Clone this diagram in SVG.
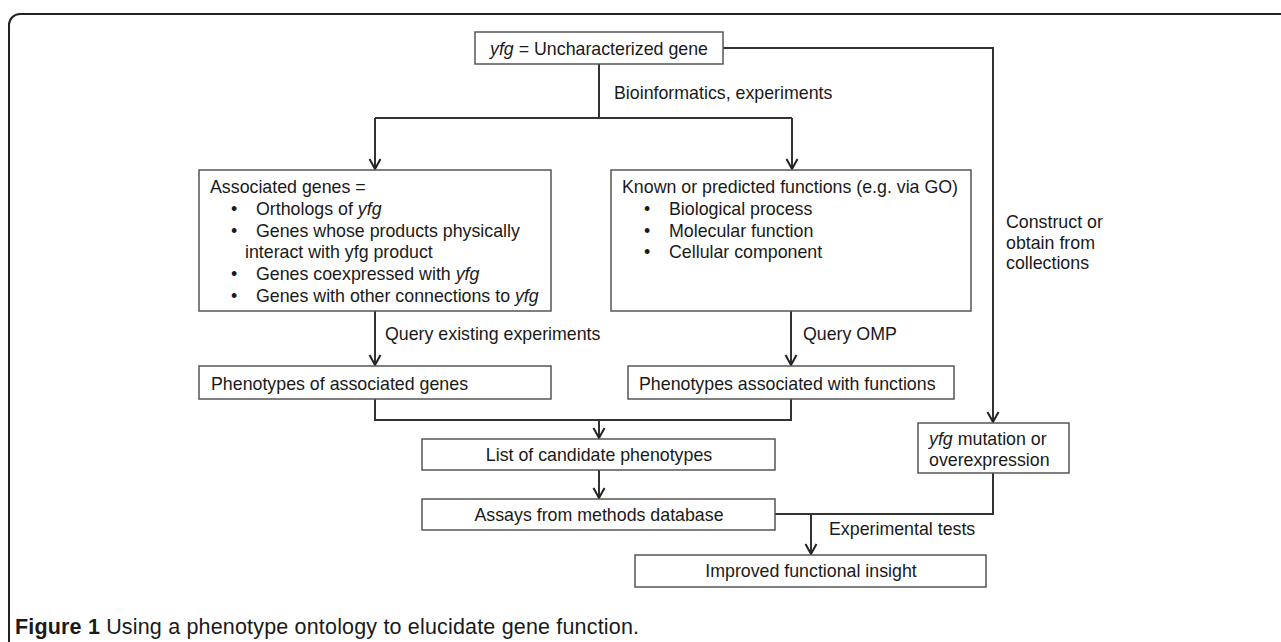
<svg xmlns="http://www.w3.org/2000/svg" width="1281" height="642" viewBox="0 0 1281 642">
<defs>
<marker id="arr" markerUnits="userSpaceOnUse" markerWidth="24" markerHeight="24" refX="0" refY="0" orient="auto" overflow="visible">
<path d="M-10,-5.5 L0,0 L-10,5.5" fill="none" stroke="#222" stroke-width="2"/>
</marker>
<style>
.box{fill:#fff;stroke:#555;stroke-width:1.5}
.t{font-family:"Liberation Sans",Arial,sans-serif;font-size:17.8px;fill:#1a1a1a}
.m{text-anchor:middle}
.i{font-style:italic}
.c{fill:none;stroke:#333;stroke-width:2}
.frame{fill:none;stroke:#222;stroke-width:2}
.cap{font-family:"Liberation Sans",Arial,sans-serif;font-size:21.5px;fill:#1a1a1a}
</style>
</defs>
<path class="frame" d="M9,642 V25 A11,11 0 0 1 20,14 H1281"/>
<g id="connectors">
<path class="c" d="M599,64 V118"/>
<path class="c" d="M375,118 H792"/>
<path class="c" d="M375,118 V169" marker-end="url(#arr)"/>
<path class="c" d="M792,118 V169" marker-end="url(#arr)"/>
<path class="c" d="M723,48 H993 V422" marker-end="url(#arr)"/>
<path class="c" d="M375,311 V365" marker-end="url(#arr)"/>
<path class="c" d="M791,311 V365" marker-end="url(#arr)"/>
<path class="c" d="M375,399 V420 H791 V399"/>
<path class="c" d="M599,420 V438" marker-end="url(#arr)"/>
<path class="c" d="M599,470 V498" marker-end="url(#arr)"/>
<path class="c" d="M775,514 H993 V473"/>
<path class="c" d="M811,514 V554" marker-end="url(#arr)"/>
<text class="t" x="614" y="99">Bioinformatics, experiments</text>
<text class="t" x="385" y="340">Query existing experiments</text>
<text class="t" x="803" y="340">Query OMP</text>
<text class="t" x="1006" y="228">Construct or</text>
<text class="t" x="1006" y="249">obtain from</text>
<text class="t" x="1006" y="269">collections</text>
<text class="t" x="829" y="535">Experimental tests</text>
</g>
<g id="top">
<rect class="box" x="475" y="32" width="248" height="32"/>
<text class="t m" x="599" y="55"><tspan class="i">yfg</tspan> = Uncharacterized gene</text>
</g>
<g id="assoc">
<rect class="box" x="199" y="170" width="352" height="141"/>
<text class="t" x="210" y="193">Associated genes =</text>
<text class="t" x="231" y="215">•</text><text class="t" x="256" y="215">Orthologs of <tspan class="i">yfg</tspan></text>
<text class="t" x="231" y="237">•</text><text class="t" x="256" y="237">Genes whose products physically</text>
<text class="t" x="245" y="258">interact with yfg product</text>
<text class="t" x="231" y="280">•</text><text class="t" x="256" y="280">Genes coexpressed with <tspan class="i">yfg</tspan></text>
<text class="t" x="231" y="302">•</text><text class="t" x="256" y="302">Genes with other connections to <tspan class="i">yfg</tspan></text>
</g>
<g id="known">
<rect class="box" x="611" y="170" width="360" height="141"/>
<text class="t" x="622" y="193">Known or predicted functions (e.g. via GO)</text>
<text class="t" x="644" y="215">•</text><text class="t" x="669" y="215">Biological process</text>
<text class="t" x="644" y="237">•</text><text class="t" x="669" y="237">Molecular function</text>
<text class="t" x="644" y="258">•</text><text class="t" x="669" y="258">Cellular component</text>
</g>
<g id="phen1">
<rect class="box" x="199" y="366" width="352" height="33"/>
<text class="t" x="211" y="390">Phenotypes of associated genes</text>
</g>
<g id="phen2">
<rect class="box" x="628" y="366" width="326" height="33"/>
<text class="t" x="639" y="390">Phenotypes associated with functions</text>
</g>
<g id="list">
<rect class="box" x="422" y="439" width="353" height="31"/>
<text class="t m" x="599" y="461">List of candidate phenotypes</text>
</g>
<g id="assays">
<rect class="box" x="422" y="499" width="353" height="31"/>
<text class="t m" x="599" y="521">Assays from methods database</text>
</g>
<g id="mutation">
<rect class="box" x="918" y="423" width="151" height="50"/>
<text class="t" x="929" y="445"><tspan class="i">yfg</tspan> mutation or</text>
<text class="t" x="929" y="466">overexpression</text>
</g>
<g id="improved">
<rect class="box" x="635" y="555" width="351" height="32"/>
<text class="t m" x="811" y="577">Improved functional insight</text>
</g>
<text class="cap" x="15" y="634" textLength="624" lengthAdjust="spacing"><tspan font-weight="bold">Figure 1</tspan> Using a phenotype ontology to elucidate gene function.</text>
</svg>
